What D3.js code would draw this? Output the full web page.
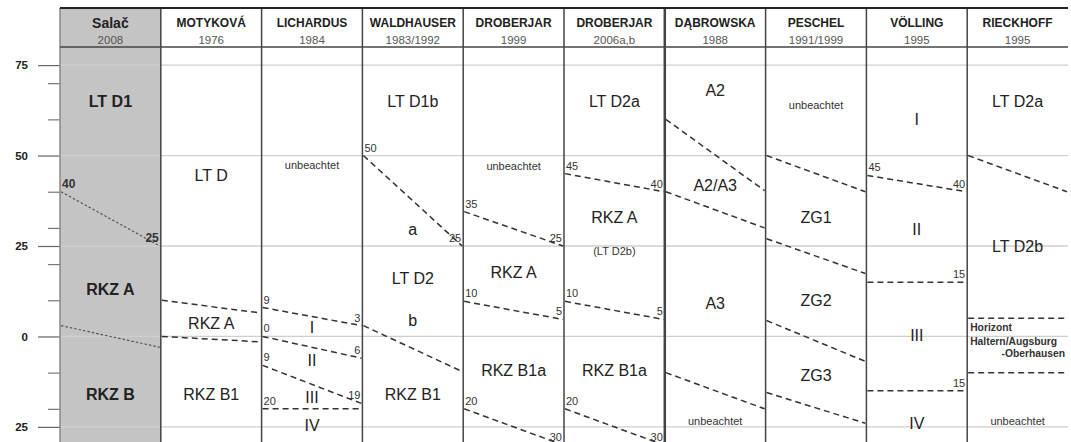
<!DOCTYPE html>
<html><head><meta charset="utf-8">
<script src="https://cdn.jsdelivr.net/npm/d3@7"></script>
<style>body{margin:0;background:#fff}svg{display:block;font-family:"Liberation Sans",Arial,sans-serif}</style>
</head><body><svg id="c" width="1071" height="442"></svg>
<script>
// ---- data ----
const columns = ["Salač","MOTYKOVÁ","LICHARDUS","WALDHAUSER","DROBERJAR","DROBERJAR","DĄBROWSKA","PESCHEL","VÖLLING","RIECKHOFF"];
const years = ["2008","1976","1984","1983/1992","1999","2006a,b","1988","1991/1999","1995","1995"];
const majorTicks = [75,50,25,0,-25];
const majorTickLabels = ["75","50","25","0","25"];
const minorTicks = [70,60,40,30,20,10,-10,-20];
// boundary lines: [column index, value at left edge, value at right edge, left label, right label, style]
const boundaries = [
  [0,40,25,"40","25","dot"],
  [0,3,-3,"","","dot"],
  [1,10,6.5,"","","dash"],
  [1,0,-1.5,"","","dash"],
  [2,8,3,"9","3","dash"],
  [2,0,-6,"0","6","dash"],
  [2,-8,-18.5,"9","19","dash"],
  [2,-20,-20,"20","","dash"],
  [3,50,25,"50","25","dash"],
  [3,3,-9.7,"","","dash"],
  [4,34.5,25,"35","25","dash"],
  [4,9.7,4.7,"10","5","dash"],
  [4,-20,-30,"20","30","dash"],
  [5,45,40,"45","40","dash"],
  [5,9.7,4.7,"10","5","dash"],
  [5,-20,-30,"20","30","dash"],
  [6,60,40.3,"","","dash"],
  [6,40,30,"","","dash"],
  [6,-10,-20,"","","dash"],
  [7,50,40,"","","dash"],
  [7,27,17.4,"","","dash"],
  [7,4.4,-6.9,"","","dash"],
  [7,-15.5,-24,"","","dash"],
  [8,44.5,40,"45","40","dash"],
  [8,15,15,"","15","dash"],
  [8,-15,-15,"","15","dash"],
  [9,50,40,"","","dash"],
  [9,5,5,"","","dash"],
  [9,-10,-10,"","","dash"]
];
// period labels: [column index, value, text, kind]
const periods = [
  [0,65,"LT D1","bold"],[0,13,"RKZ A","bold"],[0,-16,"RKZ B","bold"],
  [1,44.5,"LT D","big"],[1,3.5,"RKZ A","big"],[1,-16,"RKZ B1","big"],
  [2,47.5,"unbeachtet","small"],[2,2.5,"I","big"],[2,-6.6,"II","big"],[2,-17,"III","big"],[2,-24.6,"IV","big"],
  [3,65,"LT D1b","big"],[3,29.5,"a","big"],[3,16,"LT D2","big"],[3,4.4,"b","big"],[3,-16,"RKZ B1","big"],
  [4,47,"unbeachtet","small"],[4,17.7,"RKZ A","big"],[4,-9.4,"RKZ B1a","big"],
  [5,65,"LT D2a","big"],[5,33,"RKZ A","big"],[5,23.5,"(LT D2b)","small"],[5,-9.4,"RKZ B1a","big"],
  [6,68,"A2","big"],[6,41.7,"A2/A3","big"],[6,9,"A3","big"],[6,-23.5,"unbeachtet","small"],
  [7,64,"unbeachtet","small"],[7,33,"ZG1","big"],[7,10,"ZG2","big"],[7,-10.8,"ZG3","big"],
  [8,60,"I","big"],[8,29.5,"II","big"],[8,0.3,"III","big"],[8,-24,"IV","big"],
  [9,65,"LT D2a","big"],[9,25,"LT D2b","big"],[9,-23.5,"unbeachtet","small"]
];
const horizont = ["Horizont","Haltern/Augsburg","-Oberhausen"];

// ---- layout ----
const svg = d3.select("#c");
const topY = 8, headBottom = 47;
const x = d3.scaleBand().domain(d3.range(columns.length)).range([60,1068]).padding(0);
const y = d3.scaleLinear().domain([80,-30]).range([headBottom,445]);
const bw = x.bandwidth();

// Salač gray column
svg.append("rect").attr("x",x(0)).attr("y",topY).attr("width",bw).attr("height",442-topY).attr("fill","#c4c4c4");

// grid lines
svg.append("g").selectAll("line").data(majorTicks).join("line")
  .attr("x1",60).attr("x2",1068).attr("y1",d=>y(d)).attr("y2",d=>y(d))
  .attr("stroke","#cfcfcf").attr("stroke-width",1.3);

// axis
const axis = d3.axisLeft(y).tickValues(majorTicks).tickSize(22).tickFormat((d,i)=>majorTickLabels[i]);
const ag = svg.append("g").attr("transform","translate(60,0)").call(axis)
  .attr("font-family","'Liberation Sans',Arial,sans-serif");
ag.select(".domain").remove();
ag.selectAll(".tick line").attr("stroke","#666").attr("stroke-width",1.2);
ag.selectAll(".tick text").attr("font-size",11.5).attr("font-weight","bold").attr("fill","#222").attr("x",-32);
const ag2 = svg.append("g").attr("transform","translate(60,0)")
  .call(d3.axisLeft(y).tickValues(minorTicks).tickSize(12).tickFormat(""));
ag2.select(".domain").remove();
ag2.selectAll(".tick line").attr("stroke","#777").attr("stroke-width",1.2);

// boundary lines
const bl = svg.append("g");
boundaries.forEach(b=>{
  const x0 = x(b[0]), x1 = x(b[0])+bw;
  bl.append("line").attr("x1",x0+1).attr("x2",x1-1).attr("y1",y(b[1])).attr("y2",y(b[2]))
    .attr("stroke", b[5]==="dot" ? "#555" : "#333")
    .attr("stroke-width", b[5]==="dot" ? 1.2 : 1.5)
    .attr("stroke-dasharray", b[5]==="dot" ? "2.5,2" : "6,4");
  const bold = b[0]===0;
  if (b[3]) bl.append("text").attr("x",x0+2).attr("y",y(b[1])-4).text(b[3])
     .attr("font-size",bold?12:11).attr("font-weight",bold?"bold":"normal").attr("fill","#333");
  if (b[4]) bl.append("text").attr("x",x1-2).attr("y",y(b[2])-4).attr("text-anchor","end").text(b[4])
     .attr("font-size",bold?12:11).attr("font-weight",bold?"bold":"normal").attr("fill","#333");
});

// period labels
svg.append("g").selectAll("text").data(periods).join("text")
  .attr("x",d=>x(d[0])+bw/2).attr("y",d=>y(d[1]))
  .attr("text-anchor","middle").attr("dominant-baseline","central")
  .attr("font-size",d=>d[3]==="small"?11:16)
  .attr("font-weight",d=>d[3]==="bold"?"bold":"normal")
  .attr("fill",d=>d[3]==="small"?"#333":"#222")
  .text(d=>d[2]);

// Horizont text
const hx = x(9);
const hAttrs = t=>t.attr("dominant-baseline","central").attr("font-size",10.3).attr("font-weight","bold").attr("fill","#333");
svg.append("text").attr("x",hx+3).attr("y",y(2.5)).call(hAttrs).text(horizont[0]);
svg.append("text").attr("x",hx+3).attr("y",y(-1.5)).call(hAttrs).text(horizont[1]);
svg.append("text").attr("x",hx+bw-3).attr("y",y(-4.6)).attr("text-anchor","end").call(hAttrs).text(horizont[2]);

// header
const hg = svg.append("g");
columns.forEach((c,i)=>{
  const cx = x(i)+bw/2;
  hg.append("text").attr("x",cx).attr("y",i===0?28:27).attr("text-anchor","middle")
    .attr("font-size",i===0?14:12).attr("font-weight","bold").attr("fill","#222").text(c);
  hg.append("text").attr("x",cx).attr("y",44).attr("text-anchor","middle")
    .attr("font-size",11.5).attr("fill","#555").text(years[i]);
});

// vertical dividers
const dividers = d3.range(columns.length);
svg.append("g").selectAll("line").data(dividers).join("line")
  .attr("x1",d=>x(d)).attr("x2",d=>x(d)).attr("y1",topY).attr("y2",442)
  .attr("stroke",d=>d===0?"#888":"#444").attr("stroke-width",d=>d===6?2.5:1.5);

// top and header border
svg.append("line").attr("x1",60).attr("x2",1068).attr("y1",topY).attr("y2",topY).attr("stroke","#222").attr("stroke-width",2);
svg.append("line").attr("x1",60).attr("x2",1068).attr("y1",headBottom).attr("y2",headBottom).attr("stroke","#444").attr("stroke-width",1.6);
</script></body></html>
